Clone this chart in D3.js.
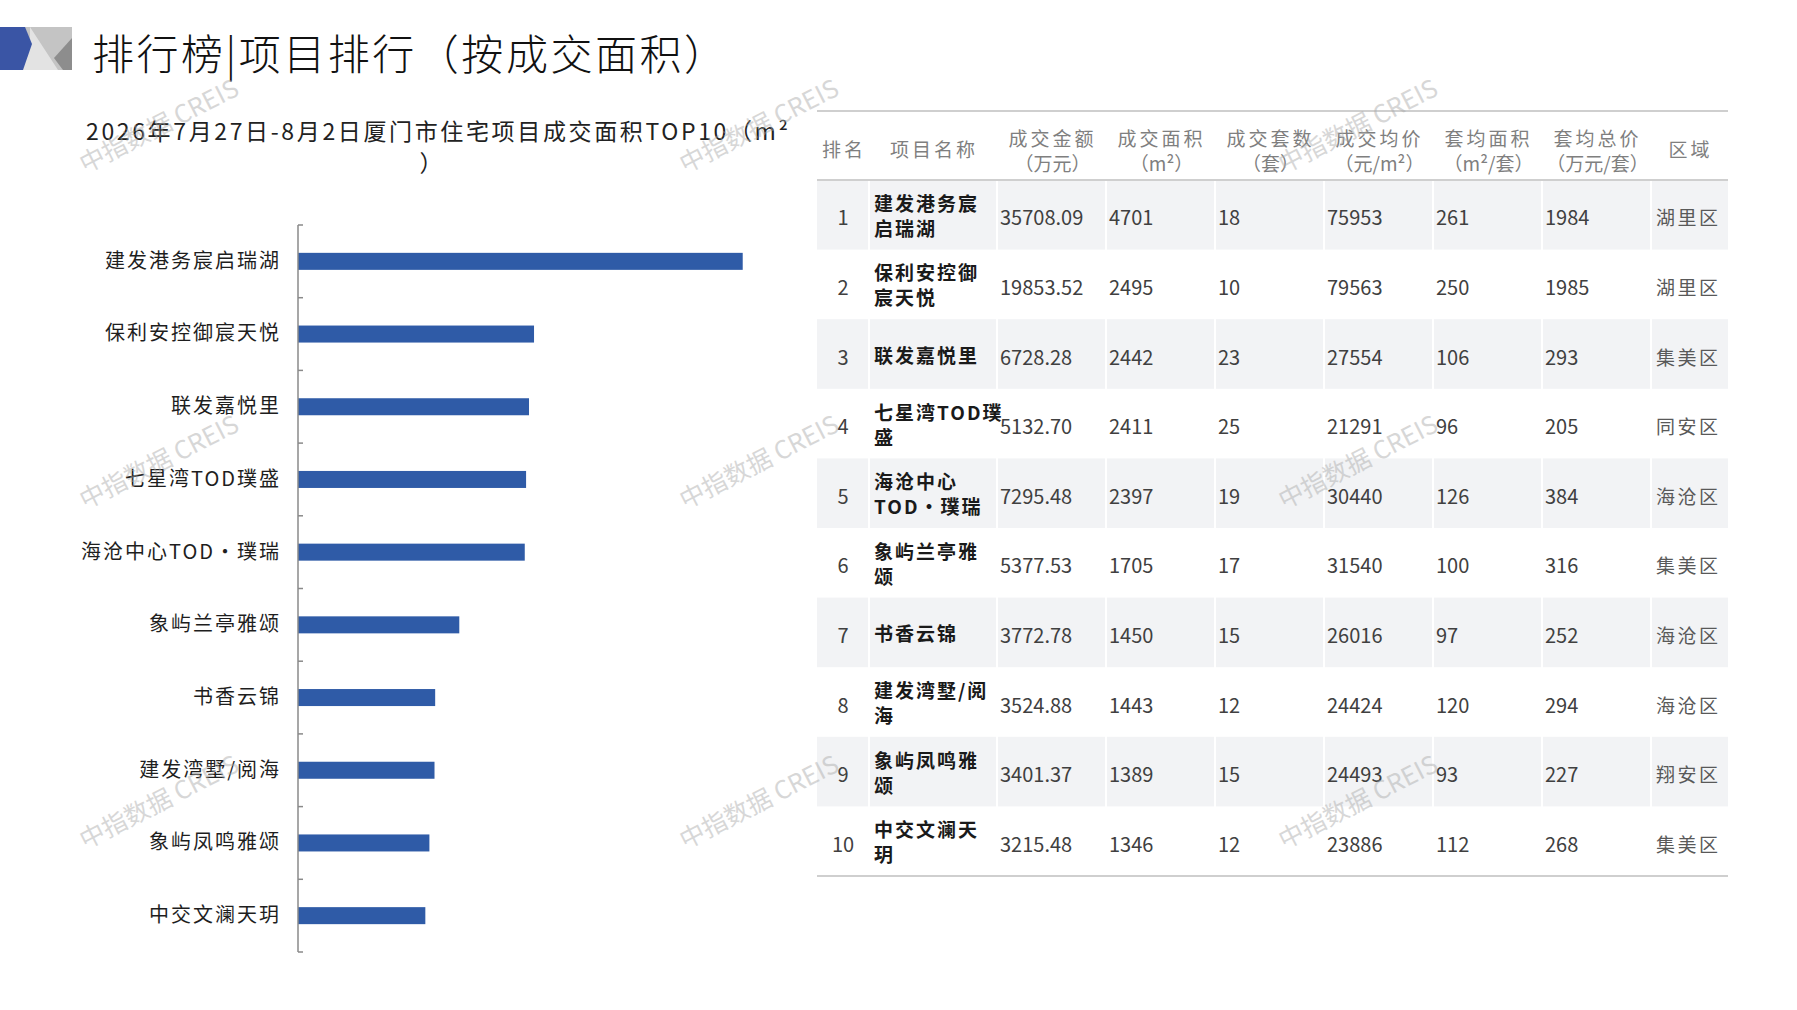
<!DOCTYPE html>
<html>
<head>
<meta charset="utf-8">
<script src="https://cdn.jsdelivr.net/npm/d3@7"></script>
<style>
body { margin: 0; background: #fff; }
text { font-family: "Noto Sans CJK SC", "Noto Sans", sans-serif; }
</style>
</head>
<body>
<svg id="chart" width="1797" height="1010"></svg>
<script>
// ---- data ----
var ranks = [1, 2, 3, 4, 5, 6, 7, 8, 9, 10];
var projects = ["建发港务宸启瑞湖", "保利安控御宸天悦", "联发嘉悦里", "七星湾TOD璞盛", "海沧中心TOD•璞瑞",
    "象屿兰亭雅颂", "书香云锦", "建发湾墅/阅海", "象屿凤鸣雅颂", "中交文澜天玥"];
var amounts = [35708.09, 19853.52, 6728.28, 5132.70, 7295.48, 5377.53, 3772.78, 3524.88, 3401.37, 3215.48];
var areas = [4701, 2495, 2442, 2411, 2397, 1705, 1450, 1443, 1389, 1346];
var units = [18, 10, 23, 25, 19, 17, 15, 12, 15, 12];
var avgPrices = [75953, 79563, 27554, 21291, 30440, 31540, 26016, 24424, 24493, 23886];
var avgAreas = [261, 250, 106, 96, 126, 100, 97, 120, 93, 112];
var avgTotals = [1984, 1985, 293, 205, 384, 316, 252, 294, 227, 268];
var districts = ["湖里区", "湖里区", "集美区", "同安区", "海沧区", "集美区", "海沧区", "海沧区", "翔安区", "集美区"];
var headers = [["排名"], ["项目名称"], ["成交金额", "（万元）"], ["成交面积", "（m²）"], ["成交套数", "（套）"],
    ["成交均价", "（元/m²）"], ["套均面积", "（m²/套）"], ["套均总价", "（万元/套）"], ["区域"]];

var title = "排行榜|项目排行（按成交面积）";
var subtitle = "2026年7月27日-8月2日厦门市住宅项目成交面积TOP10（m²";
var watermark = "中指数据 CREIS";

var svg = d3.select("#chart");

// ---- header logo + title ----
var logo = svg.append("g");
logo.append("rect").attr("x", 22).attr("y", 27).attr("width", 50).attr("height", 43).attr("fill", "#c4c4c4");
logo.append("polygon").attr("points", "30,27 58,70 22,70 30,45").attr("fill", "#e3e3e3");
logo.append("polygon").attr("points", "72,38 54,58 63,70 72,70").attr("fill", "#8d8d8d");
logo.append("polygon").attr("points", "0,27 25,27 32,44 23,70 0,70").attr("fill", "#3a55a5");

svg.append("text")
    .attr("x", 92).attr("y", 51)
    .attr("dominant-baseline", "central")
    .attr("textLength", 634).attr("lengthAdjust", "spacing")
    .style("font-size", "42px")
    .style("font-weight", "300")
    .style("fill", "#111")
    .text(title);

// ---- bar chart ----
svg.append("text")
    .attr("x", 437).attr("y", 130)
    .attr("text-anchor", "middle")
    .attr("dominant-baseline", "central")
    .attr("textLength", 702).attr("lengthAdjust", "spacing")
    .style("font-size", "23px")
    .style("fill", "#222")
    .text(subtitle);
svg.append("text")
    .attr("x", 431).attr("y", 162)
    .attr("text-anchor", "middle")
    .attr("dominant-baseline", "central")
    .style("font-size", "23px")
    .style("fill", "#222")
    .text("）");

var axisX = 298;
var y = d3.scaleBand()
    .domain(projects)
    .range([225, 952])
    .paddingInner(0.766)
    .paddingOuter(0.383);

var x = d3.scaleLinear()
    .domain([0, 5000])
    .range([axisX, axisX + 473]);

var bars = svg.append("g");
bars.selectAll("rect")
    .data(projects)
    .enter().append("rect")
    .attr("x", x(0))
    .attr("y", function (d) { return y(d); })
    .attr("width", function (d, i) { return x(areas[i]) - x(0); })
    .attr("height", y.bandwidth())
    .attr("fill", "#2f5ba7");

var yAxis = svg.append("g")
    .attr("transform", "translate(" + axisX + ",0)")
    .call(d3.axisLeft(y).tickSize(0).tickPadding(17));
yAxis.select(".domain").remove();
yAxis.selectAll("text")
    .style("font-family", '"Noto Sans CJK SC", sans-serif')
    .style("font-size", "20px")
    .style("letter-spacing", "2px")
    .style("fill", "#1e1e1e");

// axis line with boundary ticks
var bounds = d3.range(projects.length + 1).map(function (i) { return 225 + i * y.step(); });
svg.append("line")
    .attr("x1", axisX).attr("x2", axisX)
    .attr("y1", bounds[0]).attr("y2", bounds[bounds.length - 1])
    .style("stroke", "#8a8a8a").style("stroke-width", "1.5px");
svg.selectAll(".btick")
    .data(bounds)
    .enter().append("line")
    .attr("class", "btick")
    .attr("x1", axisX).attr("x2", axisX + 5)
    .attr("y1", function (d) { return d; }).attr("y2", function (d) { return d; })
    .style("stroke", "#8a8a8a").style("stroke-width", "1.5px");

// ---- table ----
var colEdges = [817, 869, 997, 1106, 1215, 1324, 1433, 1542, 1651, 1728];
var row = d3.scaleBand().domain(ranks).range([180, 876]);
var table = svg.append("g");

// shaded rows
ranks.forEach(function (r, i) {
    if (i % 2 !== 0) return;
    for (var c = 0; c < colEdges.length - 1; c++) {
        table.append("rect")
            .attr("x", colEdges[c] + (c === 0 ? 0 : 1))
            .attr("y", row(r))
            .attr("width", colEdges[c + 1] - colEdges[c] - (c === 0 ? 1 : 2) + (c === colEdges.length - 2 ? 1 : 0))
            .attr("height", row.bandwidth())
            .attr("fill", "#f2f3f5");
    }
});

[111, 180, 876].forEach(function (ly) {
    table.append("line")
        .attr("x1", colEdges[0]).attr("x2", colEdges[colEdges.length - 1])
        .attr("y1", ly).attr("y2", ly)
        .style("stroke", "#cfcfcf").style("stroke-width", "2px");
});

// header
headers.forEach(function (lines, c) {
    var cx = (colEdges[c] + colEdges[c + 1]) / 2;
    lines.forEach(function (t, k) {
        table.append("text")
            .attr("x", cx + 1).attr("y", lines.length === 1 ? 148 : 137 + k * 25)
            .attr("text-anchor", "middle")
            .attr("dominant-baseline", "central")
            .style("font-size", "19px")
            .style("letter-spacing", k === 0 ? "3px" : "0px")
            .style("fill", "#7f7f7f")
            .text(t);
    });
});

// wrap a name into lines (cjk = 1 unit, latin = 0.55, max 5.8 units per line)
function wrapName(name) {
    var tokens = name.match(/[A-Za-z0-9]+[•\/]?|./g);
    var lines = [], cur = "", w = 0;
    tokens.forEach(function (t) {
        var tw = 0;
        for (var k = 0; k < t.length; k++) {
            tw += /[A-Za-z0-9]/.test(t[k]) ? 0.55 : (t[k] === "/" ? 0.5 : 1);
        }
        if (w + tw > 5.8 && cur !== "") {
            lines.push(cur);
            cur = ""; w = 0;
        }
        cur += t; w += tw;
    });
    lines.push(cur);
    return lines;
}

var numCols = [
    amounts.map(function (v) { return v.toFixed(2); }),
    areas, units, avgPrices, avgAreas, avgTotals
];

ranks.forEach(function (r, i) {
    var cy = row(r) + row.bandwidth() / 2;
    table.append("text")
        .attr("x", (colEdges[0] + colEdges[1]) / 2).attr("y", cy + 2)
        .attr("text-anchor", "middle").attr("dominant-baseline", "central")
        .style("font-size", "20px").style("fill", "#404040")
        .text(r);

    var lines = wrapName(projects[i]);
    lines.forEach(function (t, k) {
        table.append("text")
            .attr("x", colEdges[1] + 5)
            .attr("y", cy + (k - (lines.length - 1) / 2) * 25)
            .attr("dominant-baseline", "central")
            .style("font-size", "19px").style("font-weight", "700")
            .style("letter-spacing", "2px")
            .style("fill", "#1a1a1a")
            .text(t);
    });

    numCols.forEach(function (col, c) {
        table.append("text")
            .attr("x", colEdges[c + 2] + 3).attr("y", cy + 2)
            .attr("dominant-baseline", "central")
            .style("font-size", "20px").style("fill", "#404040")
            .text(col[i]);
    });

    table.append("text")
        .attr("x", colEdges[8] + 5).attr("y", cy + 2)
        .attr("dominant-baseline", "central")
        .style("font-size", "19px").style("letter-spacing", "2.5px")
        .style("fill", "#595959")
        .text(districts[i]);
});

// ---- watermarks ----
var marks = [[158, 124], [758, 124], [1357, 124], [158, 460], [758, 460], [1357, 460], [158, 800], [758, 800], [1357, 800]];
svg.selectAll(".wm")
    .data(marks)
    .enter().append("text")
    .attr("class", "wm")
    .attr("transform", function (d) { return "translate(" + d[0] + "," + d[1] + ") rotate(-27)"; })
    .attr("text-anchor", "middle")
    .attr("dominant-baseline", "central")
    .style("font-size", "25px")
    .style("fill", "#a8a8a8")
    .style("opacity", 0.45)
    .text(watermark);
</script>
</body>
</html>
